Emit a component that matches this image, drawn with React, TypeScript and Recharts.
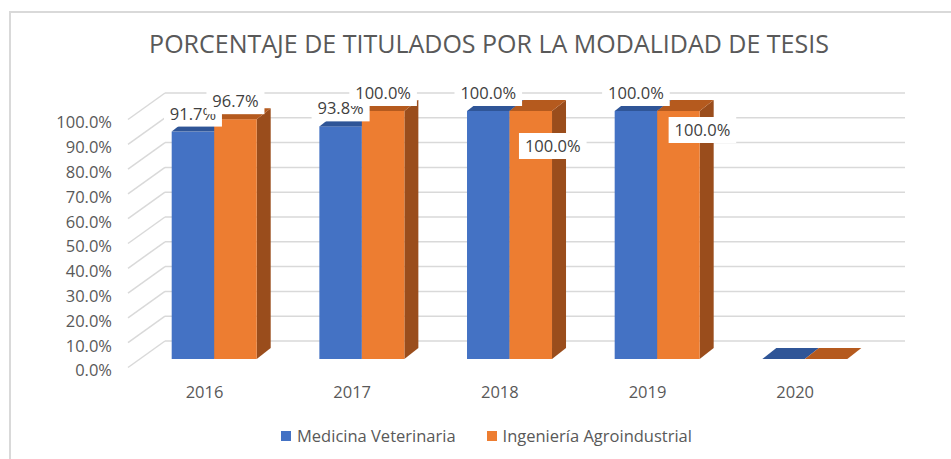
import { Bar, BarChart, CartesianGrid, LabelList, Legend, XAxis, YAxis } from 'recharts';

// values
const years = ['2016', '2017', '2018', '2019', '2020'];
const medicinaVeterinaria = [0.917, 0.938, 1.0, 1.0, 0];
const ingenieriaAgroindustrial = [0.967, 1.0, 1.0, 1.0, 0];
const yTicks = [0, 0.1, 0.2, 0.3, 0.4, 0.5, 0.6, 0.7, 0.8, 0.9, 1.0];
const seriesNames = ['Medicina Veterinaria', 'Ingeniería Agroindustrial'];

// Excel nudged a couple of orange labels off the bar top
const agroLabelNudge = [
  [0, 0],
  [0, 0],
  [22, 53],
  [24, 37],
  [0, 0],
];

const data = years.map((year, i) => ({
  year,
  vet: medicinaVeterinaria[i],
  agro: ingenieriaAgroindustrial[i],
}));

const FONT = '"Open Sans", "Noto Sans", sans-serif';
const TEXT = '#595959';
const GRID = '#d9d9d9';
const DEPTH_X = 14;
const DEPTH_Y = 11;
const FS = 16.5;

const BLUE = { front: '#4472C4', top: '#2F5597', side: '#2B4E8C' };
const ORANGE = { front: '#ED7D31', top: '#B55A1E', side: '#9A4D1C' };

const pct = (v: number) => `${(v * 100).toFixed(1)}%`;

function make3DShape(colors: { front: string; top: string; side: string }) {
  return (props: any) => {
    const { x, y, width, height } = props;
    const h = Math.max(0, height || 0);
    const top = `${x},${y} ${x + width},${y} ${x + width + DEPTH_X},${y - DEPTH_Y} ${x + DEPTH_X},${y - DEPTH_Y}`;
    const side = `${x + width},${y} ${x + width + DEPTH_X},${y - DEPTH_Y} ${x + width + DEPTH_X},${y + h - DEPTH_Y} ${x + width},${y + h}`;
    return (
      <g>
        {h > 0 && <polygon points={side} fill={colors.side} />}
        {h > 0 && <rect x={x} y={y} width={width} height={h} fill={colors.front} />}
        <polygon points={top} fill={colors.top} />
      </g>
    );
  };
}

function LabelBox({ cx, cy, text }: { cx: number; cy: number; text: string }) {
  const w = text.length * 9.6 + 10;
  return (
    <g>
      <rect x={cx - w / 2} y={cy - 13} width={w} height={26} fill="#ffffff" />
      <text x={cx} y={cy} dy="0.36em" textAnchor="middle" fontFamily={FONT} fontSize={FS} fill="#404040">
        {text}
      </text>
    </g>
  );
}

function readBox(props: any) {
  const vb = props.viewBox && props.viewBox.width !== undefined ? props.viewBox : props;
  return { x: Number(vb.x), y: Number(vb.y), width: Number(vb.width), height: Number(vb.height) };
}

// blue labels are drawn from the orange bar layer so they sit above every bar
function VetLabel(props: any) {
  const i = props.index;
  const agro = ingenieriaAgroindustrial[i];
  const vet = medicinaVeterinaria[i];
  if (!vet || !agro) return null;
  const { x, y, width, height } = readBox(props);
  const bottom = y + height;
  const vetTop = bottom - (vet * height) / agro;
  return <LabelBox cx={x - width / 2} cy={vetTop - 18} text={pct(vet)} />;
}

function AgroLabel(props: any) {
  const i = props.index;
  const agro = ingenieriaAgroindustrial[i];
  if (!agro) return null;
  const { x, y, width } = readBox(props);
  const [nx, ny] = agroLabelNudge[i];
  return <LabelBox cx={x + width / 2 + nx} cy={y - 18 + ny} text={pct(agro)} />;
}

function GridLine(props: any) {
  const { x1, x2, y1, index } = props;
  return (
    <g key={`grid-${index}`}>
      <line x1={x1 - 12.7} y1={y1 + 8.5} x2={x1 + 24.3} y2={y1 - 18} stroke={GRID} strokeWidth={1.5} />
      <line x1={x1 + 24.3} y1={y1 - 18} x2={x2 + 26} y2={y1 - 18} stroke={GRID} strokeWidth={1.5} />
    </g>
  );
}

function YTick(props: any) {
  const { x, y, payload } = props;
  return (
    <text x={x} y={y + 11.5} dy="0.36em" textAnchor="end" fontFamily={FONT} fontSize={FS} fill={TEXT}>
      {pct(payload.value)}
    </text>
  );
}

function XTick(props: any) {
  const { x, y, payload } = props;
  return (
    <text x={x - 10} y={y} dy="0.36em" textAnchor="middle" fontFamily={FONT} fontSize={FS} fill={TEXT}>
      {payload.value}
    </text>
  );
}

function LegendContent(props: any) {
  const items = [...(props.payload || [])].sort(
    (a: any, b: any) => seriesNames.indexOf(a.value) - seriesNames.indexOf(b.value),
  );
  return (
    <div style={{ display: 'flex', justifyContent: 'center', gap: 31, fontFamily: FONT, fontSize: FS, color: TEXT }}>
      {items.map((item: any) => (
        <div key={item.value} style={{ display: 'flex', alignItems: 'center', gap: 6 }}>
          <span style={{ width: 10, height: 10, background: item.color, display: 'inline-block' }} />
          <span>{item.value}</span>
        </div>
      ))}
    </div>
  );
}

export default function App() {
  return (
    <div style={{ position: 'fixed', left: 0, top: 0, width: 951, height: 459, background: '#fff', overflow: 'hidden' }}>
      <div
        style={{
          position: 'absolute',
          left: 9,
          top: 11,
          width: 1000,
          height: 600,
          borderLeft: `2px solid ${GRID}`,
          borderTop: `2px solid ${GRID}`,
        }}
      />
      <div
        style={{
          position: 'absolute',
          left: 0,
          top: 26,
          width: 978,
          textAlign: 'center',
          fontFamily: FONT,
          fontSize: 25,
          color: TEXT,
          whiteSpace: 'nowrap',
        }}
      >
        PORCENTAJE DE TITULADOS POR LA MODALIDAD DE TESIS
      </div>
      <div style={{ position: 'absolute', left: 0, top: 0 }}>
        <BarChart
          width={951}
          height={459}
          data={data}
          margin={{ top: 111, right: 72, bottom: 0, left: 0 }}
          barGap={0}
          barSize={42.5}
        >
          <CartesianGrid vertical={false} horizontal={GridLine} />
          <XAxis
            dataKey="year"
            height={100}
            axisLine={false}
            tickLine={false}
            tickSize={0}
            tickMargin={33}
            tick={XTick}
          />
          <YAxis
            width={140.7}
            domain={[0, 1]}
            ticks={yTicks}
            axisLine={false}
            tickLine={false}
            tickSize={0}
            tickMargin={28.7}
            tick={YTick}
          />
          <Legend
            layout="horizontal"
            verticalAlign="middle"
            align="center"
            wrapperStyle={{ top: 424, left: 22, width: 929 }}
            content={LegendContent}
          />
          <Bar
            dataKey="vet"
            name={seriesNames[0]}
            fill={BLUE.front}
            shape={make3DShape(BLUE)}
            isAnimationActive={false}
          />
          <Bar
            dataKey="agro"
            name={seriesNames[1]}
            fill={ORANGE.front}
            shape={make3DShape(ORANGE)}
            isAnimationActive={false}
          >
            <LabelList dataKey="vet" content={VetLabel} />
            <LabelList dataKey="agro" content={AgroLabel} />
          </Bar>
        </BarChart>
      </div>
    </div>
  );
}
